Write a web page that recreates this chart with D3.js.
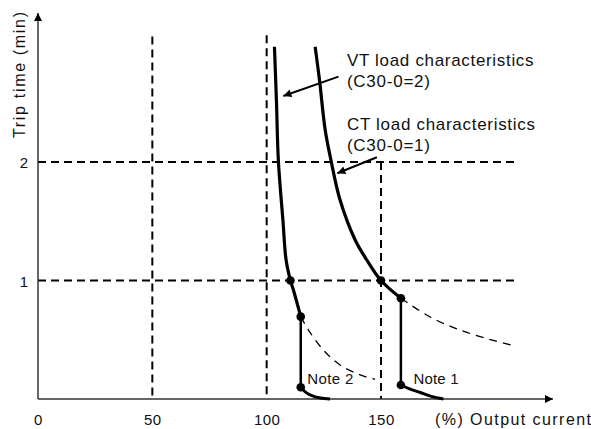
<!DOCTYPE html>
<html><head><meta charset="utf-8">
<script src="https://cdn.jsdelivr.net/npm/d3@7"></script>
<style>body{margin:0;background:#fff}svg{display:block}text{font-family:"Liberation Sans",Arial,sans-serif;fill:#111}</style>
</head><body><svg id="c" width="591" height="429"></svg>
<script>
// ---- data (x: % output current, y: trip time in minutes) ----
const xTicks = [0, 50, 100, 150];
const yTicks = [1, 2];
const xTickLabels = ["0", "50", "100", "150"];
const yTickLabels = ["1", "2"];
const vtCurve = [[103.4,2.973],[104.3,2.5],[105.1,2.017],[107.1,1.511],[108.5,1.173],[110.4,1.0],[111.7,0.92],[114.9,0.695]];
const vtDrop = [[114.9,0.695],[114.9,0.099]];
const vtTail = [[114.9,0.099],[117,0.058],[119.5,0.03],[123.5,0.008],[127.7,0]];
const vtDashed = [[114.9,0.695],[118.3,0.582],[124.8,0.413],[132.1,0.287],[140.9,0.203],[147.4,0.166]];
const vtDots = [[110.4,1.0],[114.9,0.695],[114.9,0.099]];
const ctCurve = [[121.2,2.973],[123.1,2.692],[125.6,2.27],[128.1,2.017],[132.1,1.679],[138.7,1.342],[143.8,1.173],[150,1.0],[158.7,0.85]];
const ctDrop = [[158.7,0.85],[158.7,0.118]];
const ctTail = [[158.7,0.118],[162.5,0.085],[167.1,0.055],[172,0.022],[177.3,0]];
const ctDashed = [[158.7,0.85],[171.5,0.692],[184.6,0.582],[197.75,0.502],[208.7,0.447]];
const ctDots = [[150,1.0],[158.7,0.85],[158.7,0.118]];
const gridV = [[50,3.06],[100,3.07],[150,2.0]];   // vertical dashed: x, top time
const gridH = [1, 2];
const labelLines = ["VT load characteristics","(C30-0=2)","CT load characteristics","(C30-0=1)"];
const noteLabels = ["Note 2","Note 1"];
const xTitle = "(%) Output current";
const yTitle = "Trip time (min)";

// ---- scales ----
const x = d3.scaleLinear().domain([0,150]).range([38,381]);
const y = d3.scaleLinear().domain([0,2]).range([399,162]);
const svg = d3.select("#c");
const line = d3.line().x(d=>x(d[0])).y(d=>y(d[1]));
const curve = d3.line().x(d=>x(d[0])).y(d=>y(d[1])).curve(d3.curveCatmullRom.alpha(0.5));

svg.append("defs").append("marker").attr("id","ah").attr("viewBox","0 0 10 10")
  .attr("refX",10).attr("refY",5).attr("markerWidth",10).attr("markerHeight",8)
  .attr("markerUnits","userSpaceOnUse").attr("orient","auto")
  .append("path").attr("d","M0,0L10,5L0,10Z").attr("fill","#000");

// grid dashed lines
gridV.forEach(([gx,top])=>{
  svg.append("line").attr("x1",x(gx)).attr("x2",x(gx)).attr("y1",y(top)).attr("y2",y(0))
    .attr("stroke","#000").attr("stroke-width",2).attr("stroke-dasharray","8,5");
});
gridH.forEach(t=>{
  svg.append("line").attr("x1",x(0)).attr("x2",x(210)).attr("y1",y(t)).attr("y2",y(t))
    .attr("stroke","#000").attr("stroke-width",2).attr("stroke-dasharray","8,5");
});

// axes
const xa = svg.append("g").attr("transform",`translate(0,${y(0)})`)
  .call(d3.axisBottom(x).tickValues(xTicks).tickSize(0).tickFormat((d,i)=>xTickLabels[i]));
xa.select(".domain").remove();
xa.selectAll("text").attr("dy",null).attr("y",26).attr("font-size",15).attr("letter-spacing",0.5).style("font-family","Liberation Sans, Arial");
const ya = svg.append("g").attr("transform",`translate(${x(0)},0)`)
  .call(d3.axisLeft(y).tickValues(yTicks).tickSize(0).tickFormat((d,i)=>yTickLabels[i]));
ya.select(".domain").remove();
ya.selectAll("text").attr("x",-10).attr("dy","0.38em").attr("font-size",15).style("font-family","Liberation Sans, Arial");

svg.append("line").attr("x1",x(0)).attr("x2",553).attr("y1",y(0)).attr("y2",y(0))
  .attr("stroke","#333").attr("stroke-width",1.5).attr("marker-end","url(#ah)");
svg.append("line").attr("x1",x(0)).attr("x2",x(0)).attr("y1",y(0)).attr("y2",13)
  .attr("stroke","#333").attr("stroke-width",1.5).attr("marker-end","url(#ah)");

// dashed thin continuations
[vtDashed, ctDashed].forEach(d=>{
  svg.append("path").attr("d",curve(d)).attr("fill","none").attr("stroke","#000")
    .attr("stroke-width",1.3).attr("stroke-dasharray","8,6");
});
// thick curves
[vtCurve, ctCurve].forEach(d=>{
  svg.append("path").attr("d",curve(d)).attr("fill","none").attr("stroke","#000").attr("stroke-width",3.2);
});
[vtTail, ctTail].forEach(d=>{
  svg.append("path").attr("d",curve(d)).attr("fill","none").attr("stroke","#000").attr("stroke-width",3);
});
[vtDrop, ctDrop].forEach(d=>{
  svg.append("path").attr("d",line(d)).attr("fill","none").attr("stroke","#000").attr("stroke-width",2.5);
});
svg.selectAll("circle.dot").data(vtDots.concat(ctDots)).join("circle").attr("class","dot")
  .attr("cx",d=>x(d[0])).attr("cy",d=>y(d[1])).attr("r",4.3).attr("fill","#000");

// annotation arrows
const arrows = [[[131.4,2.72],[107.3,2.557]],[[148.2,2.04],[130.9,1.905]]];
arrows.forEach(a=>{
  svg.append("line").attr("x1",x(a[0][0])).attr("y1",y(a[0][1])).attr("x2",x(a[1][0])).attr("y2",y(a[1][1]))
    .attr("stroke","#000").attr("stroke-width",2).attr("marker-end","url(#ah)");
});

// labels
const labelPos = [[135.1,2.81,186.6],[135.1,2.633,83],[135.1,2.274,188],[135.1,2.095,83]];
labelLines.forEach((t,i)=>{
  svg.append("text").attr("x",x(labelPos[i][0])).attr("y",y(labelPos[i][1]))
    .attr("font-size",17).attr("textLength",labelPos[i][2]).attr("lengthAdjust","spacing").text(t);
});
const notePos = [[117.8,0.127,46],[164.2,0.127,45]];
noteLabels.forEach((t,i)=>{
  svg.append("text").attr("x",x(notePos[i][0])).attr("y",y(notePos[i][1]))
    .attr("font-size",15).attr("textLength",notePos[i][2]).attr("lengthAdjust","spacing").text(t);
});
svg.append("text").attr("x",435).attr("y",425).attr("font-size",16)
  .attr("textLength",156).attr("lengthAdjust","spacing").text(xTitle);
svg.append("text").attr("transform","translate(25,75) rotate(-90)").attr("text-anchor","middle")
  .attr("font-size",16).attr("textLength",126).attr("lengthAdjust","spacing").text(yTitle);
</script></body></html>
